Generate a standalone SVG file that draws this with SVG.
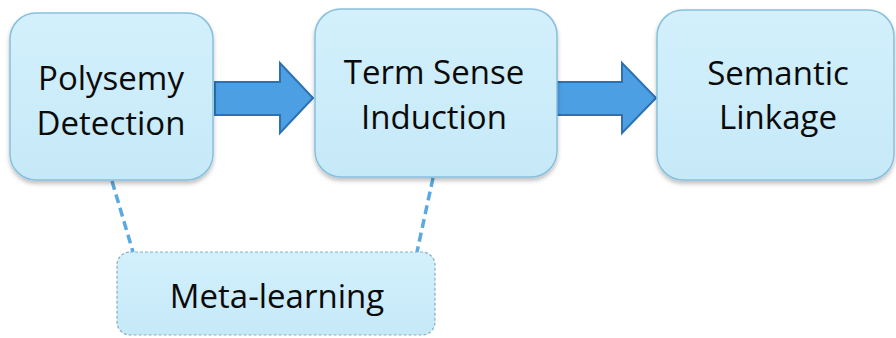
<svg xmlns="http://www.w3.org/2000/svg" width="896" height="338" viewBox="0 0 896 338">
<defs>
<filter id="sh" x="-10%" y="-10%" width="120%" height="130%">
<feDropShadow dx="0" dy="3" stdDeviation="2" flood-color="#000" flood-opacity="0.25"/>
</filter>
<linearGradient id="bg" x1="0" y1="0" x2="0" y2="1">
<stop offset="0" stop-color="#d3f0fc"/>
<stop offset="1" stop-color="#c6e9f8"/>
</linearGradient>
</defs>
<style>
.box{fill:url(#bg);stroke:#86c0de;stroke-width:1.5;filter:url(#sh)}
.meta{fill:url(#bg);stroke:#8aaec4;stroke-width:1.2;stroke-dasharray:3 2}
.lbl{font-family:"Open Sans","Liberation Sans",sans-serif;font-size:33px;fill:#0a0a0a;text-anchor:middle}
.arrow{fill:#4c9fe3;stroke:#2c71b3;stroke-width:2;stroke-linejoin:miter}
.dash{stroke:#5aa9e0;stroke-width:3.5;stroke-dasharray:9 5;fill:none}
</style>
<rect width="896" height="338" fill="#fff"/>
<g id="connectors">
<path class="arrow" d="M215,82 H280 V63 L313,98 L280,133 V115 H215 Z"/>
<path class="arrow" d="M557,82 H622 V63 L656,98 L622,133 V115 H557 Z"/>
<line class="dash" x1="112" y1="181" x2="133" y2="252"/>
<line class="dash" x1="433" y1="178" x2="417" y2="252"/>
</g>
<g id="polysemy">
<rect class="box" x="10" y="13" width="203" height="167" rx="26"/>
<text class="lbl" x="111" y="90">Polysemy</text>
<text class="lbl" x="111" y="135">Detection</text>
</g>
<g id="tsi">
<rect class="box" x="315" y="9" width="242" height="168" rx="26"/>
<text class="lbl" x="434" y="84">Term Sense</text>
<text class="lbl" x="434" y="129">Induction</text>
</g>
<g id="semantic">
<rect class="box" x="657" y="10" width="237" height="170" rx="26"/>
<text class="lbl" x="778" y="85">Semantic</text>
<text class="lbl" x="778" y="129">Linkage</text>
</g>
<g id="meta">
<rect class="meta" x="117" y="252" width="318" height="83" rx="13"/>
<text class="lbl" x="277" y="308">Meta-learning</text>
</g>
</svg>
